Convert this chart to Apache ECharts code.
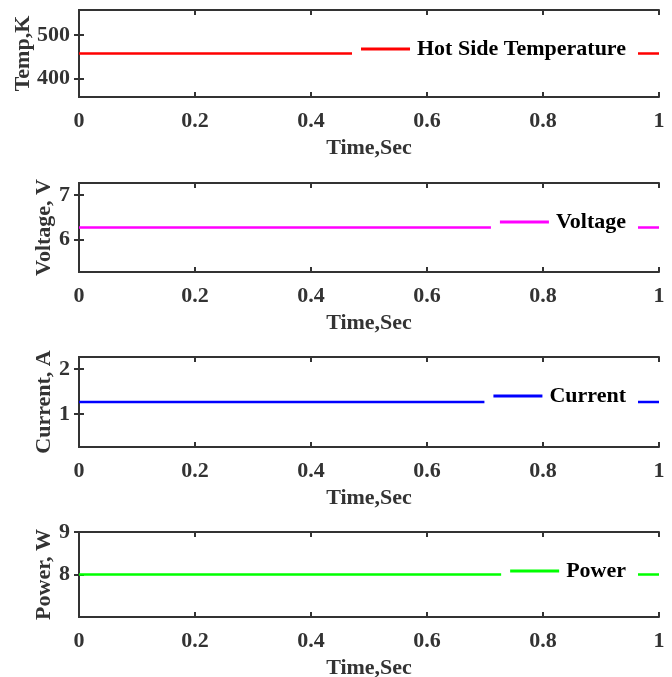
<!DOCTYPE html>
<html>
<head>
<meta charset="utf-8">
<script src="https://cdn.jsdelivr.net/npm/echarts@6/dist/echarts.min.js"></script>
<style>
html,body{margin:0;padding:0;background:#fff;}
#chart{width:672px;height:677px;}
</style>
</head>
<body>
<div id="chart"></div>
<script>
// ---- data ----
const time = [0, 0.2, 0.4, 0.6, 0.8, 1];
const temperature = [458, 458, 458, 458, 458, 458];
const voltage = [6.27, 6.27, 6.27, 6.27, 6.27, 6.27];
const current = [1.27, 1.27, 1.27, 1.27, 1.27, 1.27];
const power = [8, 8, 8, 8, 8, 8];

const seriesNames = ['Hot Side Temperature', 'Voltage', 'Current', 'Power'];
const yNames = ['Temp,K', 'Voltage, V', 'Current, A', 'Power, W'];
const xName = 'Time,Sec';
const tempTicks = [400, 500];
const voltTicks = [6, 7];
const currTicks = [1, 2];
const powTicks = [8, 9];
const yRanges = [[358, 558], [5.27, 7.27], [0.27, 2.27], [7, 9]];

// ---- layout / style ----
const FONT = "'Liberation Serif','Times New Roman',serif";
const AX = '#333333';
const colors = ['#ff0000', '#ff00ff', '#0000ff', '#00ff00'];
const gridTops = [10, 183, 357, 532];
const gridHeights = [87, 89, 90, 85];
const yNameGaps = [45, 24, 24, 24];
const values = [temperature, voltage, current, power];
const ticks = [tempTicks, voltTicks, currTicks, powTicks];

const grid = [], xAxis = [], yAxis = [], series = [], legend = [];
const lineStyleAxis = {show: true, lineStyle: {color: AX, width: 2}};
const labelStyle = {color: AX, fontFamily: FONT, fontWeight: 'bold', fontSize: 22};

for (let i = 0; i < 4; i++) {
  grid.push({left: 79, right: 13, top: gridTops[i], height: gridHeights[i], containLabel: false, outerBoundsMode: 'none'});
  // bottom x
  xAxis.push({
    type: 'value', gridIndex: i, position: 'bottom', min: 0, max: 1, interval: 0.2,
    axisLine: lineStyleAxis,
    axisTick: {show: true, inside: true, length: 5, lineStyle: {color: AX, width: 2}},
    axisLabel: Object.assign({margin: 13, formatter: v => (v === 0 ? '0' : v === 1 ? '1' : v.toFixed(1))}, labelStyle),
    splitLine: {show: false},
    name: xName, nameLocation: 'middle', nameGap: 40, nameMoveOverlap: false,
    nameTextStyle: labelStyle
  });
  // top x (mirror)
  xAxis.push({
    type: 'value', gridIndex: i, position: 'top', min: 0, max: 1, interval: 0.2,
    axisLine: lineStyleAxis,
    axisTick: {show: true, inside: true, length: 5, lineStyle: {color: AX, width: 2}},
    axisLabel: {show: false},
    splitLine: {show: false}
  });
  const [mn, mx] = yRanges[i];
  // left y
  yAxis.push({
    type: 'value', gridIndex: i, position: 'left', min: mn, max: mx,
    axisLine: lineStyleAxis,
    axisTick: {show: true, inside: true, length: 5, customValues: ticks[i], lineStyle: {color: AX, width: 2}},
    axisLabel: Object.assign({margin: 9, customValues: ticks[i]}, labelStyle),
    splitLine: {show: false},
    name: yNames[i], nameLocation: 'middle', nameGap: yNameGaps[i], nameMoveOverlap: false,
    nameTextStyle: labelStyle
  });
  // right y (mirror)
  yAxis.push({
    type: 'value', gridIndex: i, position: 'right', min: mn, max: mx,
    axisLine: lineStyleAxis,
    axisTick: {show: true, inside: true, length: 5, customValues: ticks[i], lineStyle: {color: AX, width: 2}},
    axisLabel: {show: false},
    splitLine: {show: false}
  });
  series.push({
    name: seriesNames[i], type: 'line', xAxisIndex: 2 * i, yAxisIndex: 2 * i,
    data: time.map((t, k) => [t, values[i][k]]),
    symbol: 'none', showSymbol: false,
    lineStyle: {color: colors[i], width: 2.5},
    itemStyle: {color: colors[i]},
    animation: false
  });
  legend.push({
    data: [seriesNames[i]],
    right: 34, top: gridTops[i] + 23,
    backgroundColor: '#ffffff',
    padding: [5, 12, 5, 9],
    icon: 'rect', itemWidth: 49, itemHeight: 3,
    textStyle: {color: '#000', fontFamily: FONT, fontWeight: 'bold', fontSize: 22, padding: [0, 0, 0, 2]},
    selectedMode: false
  });
}

const chart = echarts.init(document.getElementById('chart'), null, {renderer: 'canvas'});
chart.setOption({
  animation: false,
  backgroundColor: '#ffffff',
  grid, xAxis, yAxis, series, legend
});
</script>
</body>
</html>
